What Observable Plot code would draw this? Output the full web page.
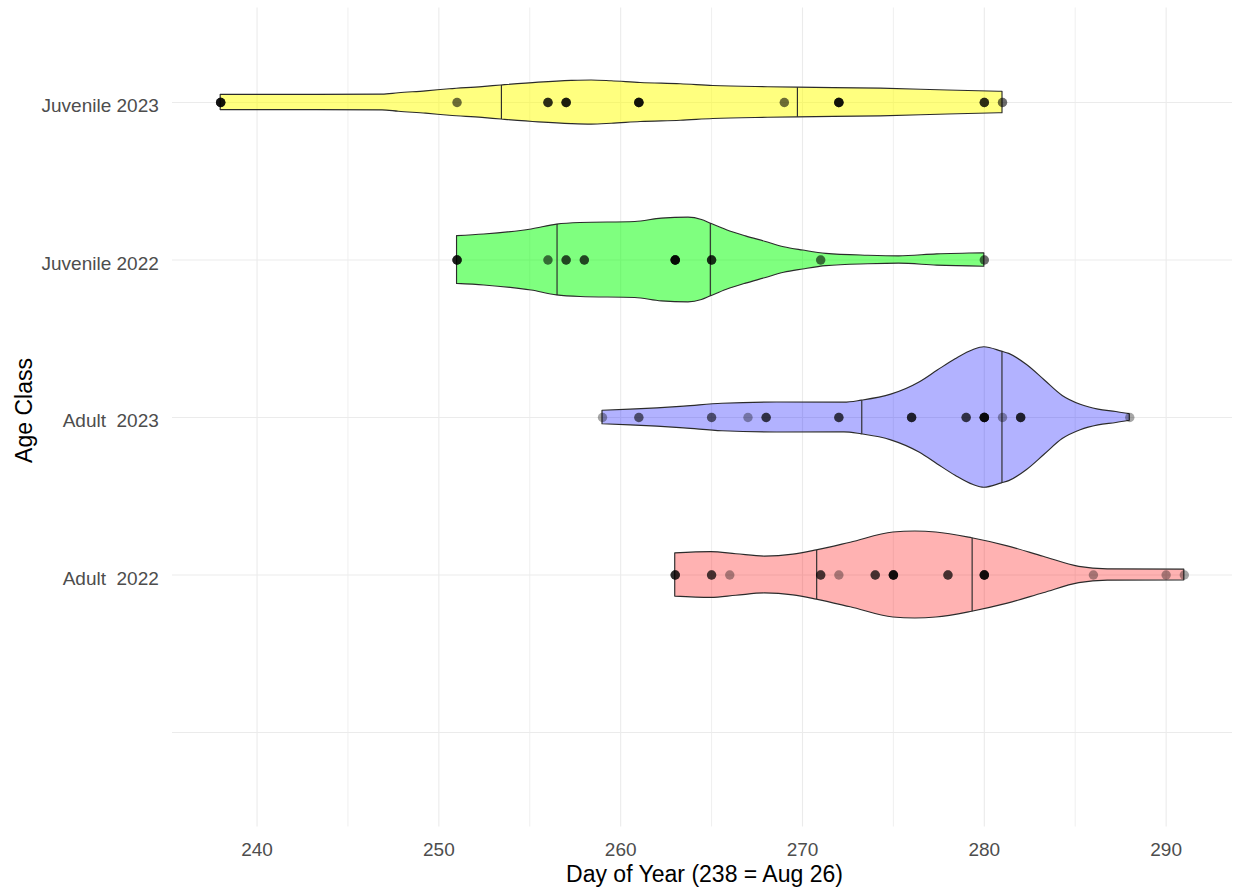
<!DOCTYPE html>
<html>
<head>
<meta charset="utf-8">
<script src="https://cdn.jsdelivr.net/npm/d3@7"></script>
<script src="https://cdn.jsdelivr.net/npm/@observablehq/plot@0.6"></script>
<style>
  body { margin: 0; background: #fff; }
  svg text { white-space: pre; }
</style>
</head>
<body>
<div id="chart"></div>
<script>
// ---- Categories (bottom to top) ----
const categories = ["", "Adult  2022", "Adult  2023", "Juvenile 2022", "Juvenile 2023"];
const groups = ["Juvenile 2023", "Juvenile 2022", "Adult  2023", "Adult  2022"];

// ---- Axis ticks ----
const majorTicks = [240, 250, 260, 270, 280, 290];
const minorTicks = [245, 255, 265, 275, 285];
const xTitle = "Day of Year (238 = Aug 26)";
const yTitle = "Age Class";

// ---- Violin outlines (day, half-width in category units) ----
const juv23Days  = [238, 246.9, 247.8, 249.3, 250.6, 252.4, 253.44, 255.5, 257.3, 258.4, 259.5, 261.1, 263.3, 265.1, 268.1, 269.72, 274.3, 278.0, 281];
const juv23Width = [0.048, 0.050, 0.059, 0.071, 0.084, 0.098, 0.108, 0.126, 0.137, 0.140, 0.135, 0.124, 0.116, 0.105, 0.097, 0.094, 0.088, 0.076, 0.068];

const juv22Days  = [251, 252.5, 255.1, 256.5, 257.8, 260.8, 262.26, 263.73, 264.47, 264.93, 265.84, 266.89, 267.94, 268.99, 270.04, 271.31, 273.62, 275.31, 277.41, 280];
const juv22Width = [0.152, 0.162, 0.194, 0.225, 0.235, 0.241, 0.263, 0.269, 0.254, 0.232, 0.189, 0.150, 0.116, 0.081, 0.060, 0.039, 0.027, 0.023, 0.036, 0.043];

const ad23Days  = [259, 260.55, 263.5, 265.6, 268.6, 272.3, 273.26, 274.88, 276.46, 277.44, 278.42, 279.41, 280.0, 280.97, 281.37, 282.35, 283.33, 284.31, 285.3, 286.28, 287.26, 288];
const ad23Width = [0.043, 0.050, 0.069, 0.087, 0.095, 0.094, 0.107, 0.145, 0.224, 0.298, 0.370, 0.429, 0.446, 0.418, 0.404, 0.333, 0.235, 0.137, 0.081, 0.050, 0.035, 0.021];

const ad22Days  = [263, 264.98, 266.36, 267.93, 269.5, 270.78, 272.65, 275.0, 276.2, 277.36, 279.33, 281.29, 283.26, 285.22, 286.79, 291];
const ad22Width = [0.137, 0.145, 0.132, 0.117, 0.129, 0.156, 0.205, 0.270, 0.276, 0.270, 0.233, 0.182, 0.116, 0.052, 0.036, 0.034];

// ---- Quartile lines (day, half-width) ----
const juv23Quart = [253.44, 269.72], juv23QuartW = [0.108, 0.094];
const juv22Quart = [256.5, 264.93],  juv22QuartW = [0.225, 0.232];
const ad23Quart  = [273.26, 280.97], ad23QuartW  = [0.107, 0.418];
const ad22Quart  = [270.78, 279.33], ad22QuartW  = [0.156, 0.233];

// ---- Observations (day, number of overlapping points) ----
const juv23Obs = [238, 251, 256, 257, 261, 269, 272, 280, 281];
const juv23Cnt = [6, 2, 4, 5, 6, 2, 6, 4, 2];
const juv22Obs = [251, 256, 257, 258, 263, 265, 271, 280];
const juv22Cnt = [5, 2, 3, 3, 7, 4, 2, 2];
const ad23Obs  = [259, 261, 265, 267, 268, 272, 276, 279, 280, 281, 282, 288];
const ad23Cnt  = [1, 2, 2, 1, 3, 3, 4, 3, 7, 1, 4, 1];
const ad22Obs  = [263, 265, 266, 271, 272, 274, 275, 278, 280, 286, 290, 291];
const ad22Cnt  = [4, 3, 1, 3, 1, 3, 6, 3, 6, 1, 1, 1];

// ---- Styles ----
const style = {
  "Juvenile 2023": {fill: "#ffff00", opacity: 0.5},
  "Juvenile 2022": {fill: "#00ff00", opacity: 0.5},
  "Adult  2023":   {fill: "#0000ff", opacity: 0.3},
  "Adult  2022":   {fill: "#ff0000", opacity: 0.3}
};

const sets = [
  {g: groups[0], d: juv23Days, w: juv23Width, q: juv23Quart, qw: juv23QuartW, o: juv23Obs, c: juv23Cnt},
  {g: groups[1], d: juv22Days, w: juv22Width, q: juv22Quart, qw: juv22QuartW, o: juv22Obs, c: juv22Cnt},
  {g: groups[2], d: ad23Days,  w: ad23Width,  q: ad23Quart,  qw: ad23QuartW,  o: ad23Obs,  c: ad23Cnt},
  {g: groups[3], d: ad22Days,  w: ad22Width,  q: ad22Quart,  qw: ad22QuartW,  o: ad22Obs,  c: ad22Cnt}
];

const posOf = name => categories.indexOf(name) + 1;

const areaMarks = [];
const ruleRows = [];
const pointRows = [];
for (const s of sets) {
  const p = posOf(s.g);
  const rows = s.d.map((day, i) => ({day, lo: p - s.w[i], hi: p + s.w[i]}));
  areaMarks.push(Plot.areaY(rows, {
    x: "day", y1: "lo", y2: "hi", curve: "monotone-x",
    fill: style[s.g].fill, fillOpacity: style[s.g].opacity,
    stroke: "#2b2b2b", strokeWidth: 1.15, strokeLinejoin: "round"
  }));
  s.q.forEach((day, i) => ruleRows.push({day, lo: p - s.qw[i], hi: p + s.qw[i]}));
  s.o.forEach((day, i) => { for (let k = 0; k < s.c[i]; k++) pointRows.push({day, pos: p}); });
}

const chart = Plot.plot({
  width: 1235,
  height: 892,
  marginLeft: 172,
  marginRight: 3,
  marginTop: 7.5,
  marginBottom: 65.5,
  x: {domain: [235.35, 293.65]},
  y: {domain: [0.4, 5.6]},
  style: {fontFamily: "'Liberation Sans', Arial, sans-serif", fontSize: "19px", background: "white", overflow: "visible"},
  marks: [
    Plot.gridX({ticks: minorTicks, stroke: "#ebebeb", strokeOpacity: 1, strokeWidth: 0.8}),
    Plot.gridX({ticks: majorTicks, stroke: "#ebebeb", strokeOpacity: 1, strokeWidth: 1.1}),
    Plot.gridY({ticks: [1, 2, 3, 4, 5], stroke: "#ebebeb", strokeOpacity: 1, strokeWidth: 1.1}),
    ...areaMarks,
    Plot.ruleX(ruleRows, {x: "day", y1: "lo", y2: "hi", stroke: "#2b2b2b", strokeWidth: 1.15}),
    Plot.dot(pointRows, {x: "day", y: "pos", r: 4.7, fill: "black", fillOpacity: 0.35, stroke: "none"}),
    Plot.axisX({ticks: majorTicks, tickSize: 0, tickPadding: 15, label: null, fill: "#4d4d4d", fontSize: 19}),
    Plot.axisY({ticks: [1, 2, 3, 4, 5], tickFormat: i => categories[i - 1], tickSize: 0, tickPadding: 13.7,
                label: null, fill: "#4d4d4d", fontSize: 19, dy: 3.5}),
    Plot.text([xTitle], {frameAnchor: "bottom", text: d => d, lineAnchor: "middle", textAnchor: "middle",
                         dy: 48.1, dx: 2, fontSize: 23, fill: "black"}),
    Plot.text([yTitle], {frameAnchor: "left", text: d => d, rotate: -90, lineAnchor: "middle", textAnchor: "middle",
                         dx: -147.9, dy: -7, fontSize: 23, fill: "black"})
  ]
});
document.getElementById("chart").appendChild(chart);
</script>
</body>
</html>
